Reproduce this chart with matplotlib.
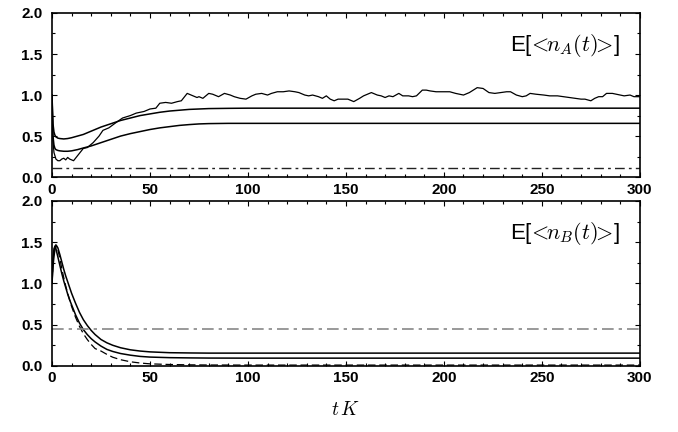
import matplotlib
matplotlib.use("Agg")
import matplotlib.pyplot as plt
from matplotlib.ticker import MultipleLocator

plt.rcParams['font.family'] = ['Liberation Sans', 'DejaVu Sans']
plt.rcParams['mathtext.fontset'] = 'cm'

# ---- top panel: E[<n_A(t)>] ----
# simulation (noisy)
t_simA = [0, 0.5, 1, 2, 3, 4, 5, 6, 7, 8,
          9, 10, 11, 12, 14, 16, 18, 21, 24, 26,
          29, 33, 36, 40, 43, 47, 50, 53, 55, 58,
          61, 64, 66, 67, 69, 71, 74, 75, 77, 80,
          82, 85, 88, 91, 93, 96, 99, 102, 104, 107,
          110, 112, 115, 118, 121, 124, 126, 129, 131, 133,
          136, 138, 140, 142, 144, 146, 148, 151, 154, 157,
          159, 161, 163, 166, 168, 170, 172, 174, 177, 179,
          182, 184, 186, 189, 191, 193, 196, 199, 203, 206,
          210, 213, 217, 220, 223, 226, 229, 232, 234, 237,
          240, 242, 244, 247, 251, 254, 258, 261, 264, 267,
          270, 272, 275, 277, 279, 281, 283, 286, 288, 290,
          292, 295, 297, 300]
nA_sim = [1.0, 0.45, 0.3, 0.22, 0.2, 0.2, 0.22, 0.23, 0.21, 0.24,
          0.22, 0.21, 0.2, 0.23, 0.29, 0.35, 0.36, 0.42, 0.5, 0.57,
          0.6, 0.67, 0.72, 0.75, 0.78, 0.8, 0.83, 0.84, 0.9, 0.91,
          0.9, 0.92, 0.93, 0.96, 1.02, 1.0, 0.97, 0.98, 0.96, 1.02,
          1.01, 0.98, 1.02, 1.0, 0.98, 0.96, 0.95, 0.99, 1.01, 1.02,
          1.0, 1.02, 1.04, 1.04, 1.05, 1.04, 1.03, 1.0, 0.99, 1.0,
          0.98, 0.96, 0.99, 0.95, 0.93, 0.95, 0.95, 0.95, 0.92, 0.96,
          0.99, 1.01, 1.03, 1.0, 0.99, 0.97, 0.99, 0.98, 1.02, 0.99,
          0.99, 0.98, 0.99, 1.06, 1.06, 1.05, 1.04, 1.04, 1.04, 1.02,
          1.0, 1.03, 1.09, 1.08, 1.03, 1.02, 1.03, 1.04, 1.04, 1.0,
          0.98, 0.99, 1.02, 1.01, 1.0, 0.99, 0.99, 0.98, 0.97, 0.96,
          0.95, 0.95, 0.93, 0.96, 0.98, 0.98, 1.02, 1.02, 1.01, 1.0,
          0.99, 1.0, 0.98, 0.98]

# approximations (smooth)
t_A = [0, 0.5, 1, 1.5, 2, 3, 4, 6, 8, 10,
       13, 16, 20, 25, 30, 35, 40, 45, 50, 55,
       60, 65, 70, 75, 80, 90, 100, 300]
nA_upper = [1.0, 0.65, 0.55, 0.51, 0.49, 0.475, 0.47, 0.465, 0.47, 0.48,
            0.5, 0.52, 0.56, 0.61, 0.65, 0.69, 0.72, 0.75, 0.77, 0.79,
            0.805, 0.815, 0.825, 0.83, 0.835, 0.838, 0.84, 0.84]
nA_lower = [1.0, 0.5, 0.39, 0.35, 0.335, 0.325, 0.32, 0.315, 0.315, 0.32,
            0.335, 0.355, 0.38, 0.42, 0.46, 0.5, 0.53, 0.555, 0.58, 0.6,
            0.615, 0.63, 0.64, 0.648, 0.652, 0.655, 0.655, 0.655]
nA_level = 0.11

# ---- bottom panel: E[<n_B(t)>] ----
t_B = [0, 0.5, 1, 1.5, 2, 2.5, 3, 4, 5, 6,
       7, 8, 9, 10, 12, 14, 16, 18, 20, 22,
       25, 28, 31, 35, 40, 45, 50, 60, 70, 80,
       100, 300]
nB_upper = [1.0, 1.2, 1.33, 1.41, 1.45, 1.45, 1.43, 1.35, 1.26, 1.17,
            1.09, 1.02, 0.95, 0.88, 0.76, 0.65, 0.56, 0.49, 0.43, 0.38,
            0.32, 0.28, 0.25, 0.22, 0.195, 0.18, 0.17, 0.16, 0.157, 0.155,
            0.155, 0.155]
nB_lower = [1.0, 1.3, 1.42, 1.45, 1.42, 1.37, 1.32, 1.22, 1.12, 1.03,
            0.95, 0.87, 0.8, 0.74, 0.62, 0.52, 0.44, 0.38, 0.33, 0.29,
            0.24, 0.2, 0.175, 0.15, 0.13, 0.115, 0.107, 0.1, 0.097, 0.095,
            0.094, 0.094]
nB_sim = [1.0, 1.25, 1.38, 1.45, 1.47, 1.45, 1.41, 1.3, 1.18, 1.07,
          0.97, 0.88, 0.8, 0.72, 0.59, 0.48, 0.39, 0.32, 0.26, 0.21,
          0.18, 0.14, 0.105, 0.075, 0.05, 0.035, 0.025, 0.017, 0.013, 0.011,
          0.01, 0.01]
nB_level = 0.445

xticks = [0, 50, 100, 150, 200, 250, 300]
yticks = [0.0, 0.5, 1.0, 1.5, 2.0]

fig = plt.figure(figsize=(6.78, 4.32), dpi=100)
ax1 = fig.add_axes([0.0767, 0.590, 0.867, 0.380])
ax2 = fig.add_axes([0.0767, 0.153, 0.867, 0.382])

ax1.plot(t_simA, nA_sim, color='black', lw=0.9)
ax1.plot(t_A, nA_upper, color='black', lw=1.1)
ax1.plot(t_A, nA_lower, color='black', lw=1.1)
ax1.axhline(nA_level, color='#222222', lw=1.0, dashes=(7, 3, 2, 3))
ax1.text(0.966, 0.80, r'E[$\!<\!\!n_A(t)\!\!>\!$]', transform=ax1.transAxes,
         ha='right', va='center', fontsize=16)

ax2.plot(t_B, nB_upper, color='black', lw=1.1)
ax2.plot(t_B, nB_lower, color='black', lw=1.1)
ax2.plot(t_B, nB_sim, color='black', lw=0.9, dashes=(6, 3))
ax2.axhline(nB_level, color='#888888', lw=1.2, dashes=(7, 3, 2, 3))
ax2.text(0.966, 0.80, r'E[$\!<\!\!n_B(t)\!\!>\!$]', transform=ax2.transAxes,
         ha='right', va='center', fontsize=16)

for ax in (ax1, ax2):
    ax.set_xlim(0, 300)
    ax.set_ylim(0, 2.0)
    ax.set_xticks(xticks)
    ax.set_yticks(yticks)
    ax.set_xticklabels([str(v) for v in xticks])
    ax.set_yticklabels(['%.1f' % v for v in yticks])
    ax.xaxis.set_minor_locator(MultipleLocator(10))
    ax.yaxis.set_minor_locator(MultipleLocator(0.25))
    ax.tick_params(which='both', direction='in', top=True, right=True,
                   width=0.8)
    ax.tick_params(which='major', length=3.5)
    ax.tick_params(which='minor', length=2.5)
    ax.tick_params(axis='y', pad=7)
    ax.tick_params(axis='x', pad=4)
    for lab in ax.get_xticklabels() + ax.get_yticklabels():
        lab.set_fontweight('bold')
        lab.set_fontsize(11)
    for sp in ax.spines.values():
        sp.set_linewidth(1.2)

fig.text(0.51, 0.05, r'$t\,K$', ha='center', va='center', fontsize=14)

fig.savefig('out.png', dpi=100)
